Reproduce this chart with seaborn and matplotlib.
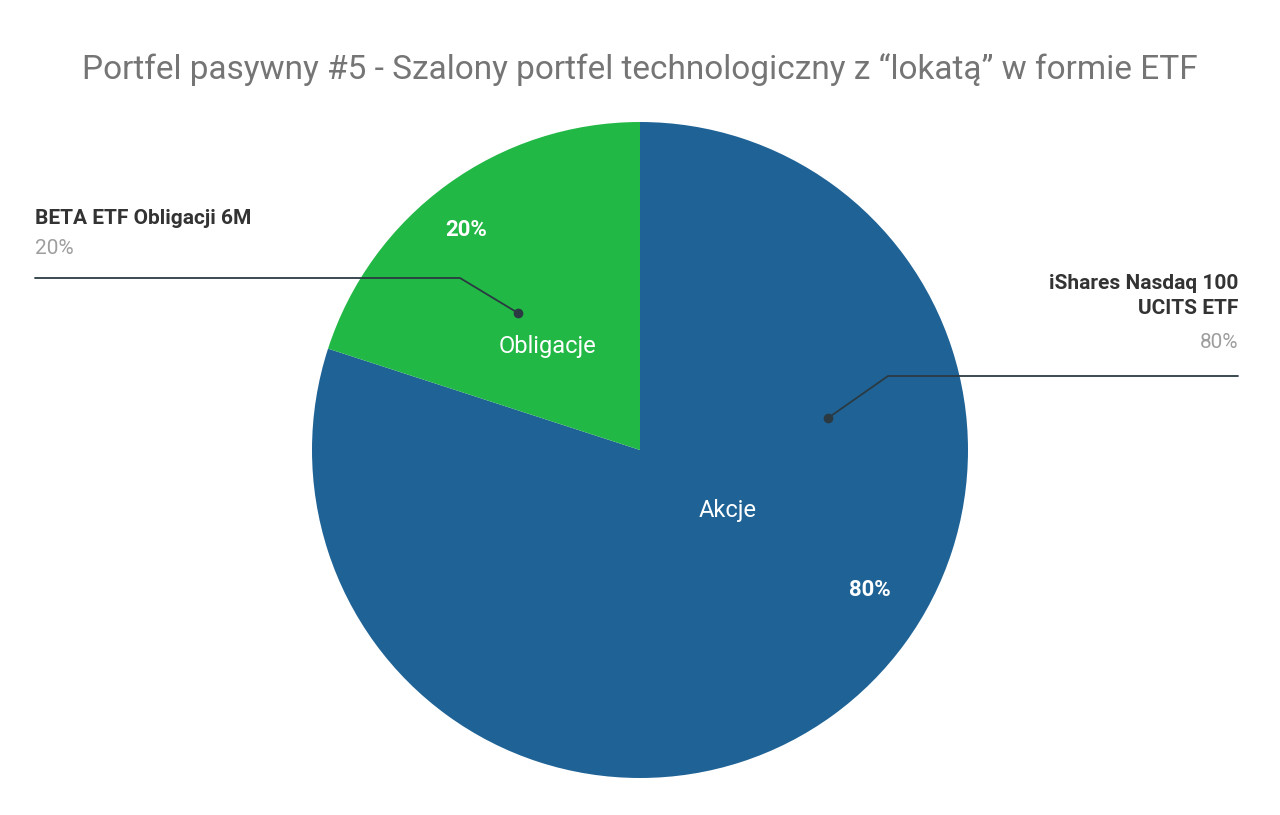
import matplotlib.pyplot as plt
import seaborn as sns

sns.set_theme(style="white")
plt.rcParams['font.family'] = ['Roboto', 'DejaVu Sans']

categories = ['Akcje', 'Obligacje']
values = [80, 20]
funds = ['iShares Nasdaq 100\nUCITS ETF', 'BETA ETF Obligacji 6M']
colors = ['#1f6396', '#22b846']

W, H = 1280, 815
fig = plt.figure(figsize=(W / 100, H / 100), dpi=100)
ax = fig.add_axes([0, 0, 1, 1])
ax.set_xlim(0, W)
ax.set_ylim(0, H)
ax.axis('off')

def y(py):
    return H - py

ax.pie(values, colors=colors, startangle=90, counterclock=False,
       center=(640, y(450)), radius=328, frame=True,
       wedgeprops=dict(linewidth=0))
ax.set_xlim(0, W)
ax.set_ylim(0, H)
ax.axis('off')

ax.text(640, y(70), 'Portfel pasywny #5 - Szalony portfel technologiczny z \u201clokat\u0105\u201d w formie ETF',
        ha='center', va='center', fontsize=24, color='#757575')

# labels inside slices
ax.text(728, y(510), categories[0], ha='center', va='center', fontsize=17, color='white')
ax.text(870, y(590), f'{values[0]}%', ha='center', va='center', fontsize=16, color='white', fontweight='bold')
ax.text(547, y(347), categories[1], ha='center', va='center', fontsize=17, color='white')
ax.text(466, y(230), f'{values[1]}%', ha='center', va='center', fontsize=16, color='white', fontweight='bold')

# leader lines
line_c = '#2b3a42'
ax.plot([35, 460, 518], [y(278), y(278), y(313)], color=line_c, lw=1.3)
ax.plot([518], [y(313)], 'o', color=line_c, ms=6)
ax.plot([1238, 888, 828], [y(376), y(376), y(418)], color=line_c, lw=1.3)
ax.plot([828], [y(418)], 'o', color=line_c, ms=6)

# outside labels
ax.text(35, y(218), funds[1], ha='left', va='center', fontsize=15, color='#333333', fontweight='bold')
ax.text(35, y(249), f'{values[1]}%', ha='left', va='center', fontsize=15, color='#9e9e9e')
ax.text(1238, y(296), funds[0], ha='right', va='center', fontsize=15, color='#333333',
        fontweight='bold', linespacing=1.45)
ax.text(1238, y(342), f'{values[0]}%', ha='right', va='center', fontsize=15, color='#9e9e9e')

fig.savefig('out.png', dpi=100, facecolor='white')
